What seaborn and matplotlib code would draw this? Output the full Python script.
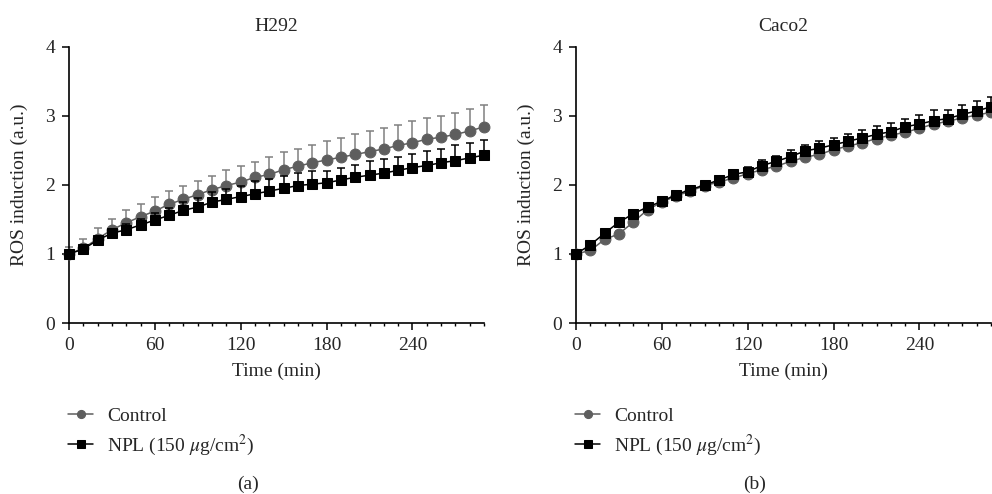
import numpy as np
import pandas as pd
import matplotlib
matplotlib.use('Agg')
import matplotlib.pyplot as plt
from matplotlib.ticker import MultipleLocator
import seaborn as sns

# time points (min)
time_min = [0, 10, 20, 30, 40, 50, 60, 70, 80, 90, 100, 110, 120, 130, 140,
            150, 160, 170, 180, 190, 200, 210, 220, 230, 240, 250, 260, 270, 280, 290]

# H292
h292_control = [1.00, 1.08, 1.22, 1.35, 1.45, 1.54, 1.62, 1.72, 1.79, 1.86, 1.93, 1.99, 2.04, 2.11, 2.15,
                2.22, 2.27, 2.32, 2.36, 2.40, 2.44, 2.48, 2.52, 2.57, 2.61, 2.66, 2.69, 2.73, 2.78, 2.84]
h292_control_err = [0.10, 0.13, 0.16, 0.16, 0.18, 0.19, 0.21, 0.19, 0.19, 0.19, 0.20, 0.22, 0.23, 0.22, 0.25,
                    0.26, 0.25, 0.26, 0.27, 0.28, 0.30, 0.30, 0.30, 0.30, 0.32, 0.31, 0.31, 0.31, 0.32, 0.32]
h292_npl = [1.00, 1.07, 1.20, 1.30, 1.35, 1.42, 1.49, 1.56, 1.63, 1.68, 1.75, 1.79, 1.83, 1.87, 1.91,
            1.95, 1.99, 2.01, 2.03, 2.07, 2.11, 2.14, 2.17, 2.21, 2.25, 2.28, 2.32, 2.35, 2.39, 2.43]
h292_npl_err = [0.02, 0.03, 0.05, 0.06, 0.08, 0.09, 0.10, 0.11, 0.12, 0.13, 0.14, 0.15, 0.16, 0.19, 0.18,
                0.18, 0.18, 0.19, 0.17, 0.18, 0.18, 0.20, 0.21, 0.20, 0.19, 0.21, 0.20, 0.22, 0.22, 0.22]

# Caco2
caco2_control = [1.00, 1.05, 1.21, 1.29, 1.46, 1.64, 1.75, 1.84, 1.91, 1.99, 2.04, 2.10, 2.16, 2.22, 2.27,
                 2.34, 2.40, 2.44, 2.51, 2.56, 2.61, 2.67, 2.72, 2.76, 2.82, 2.88, 2.92, 2.97, 3.01, 3.05]
caco2_control_err = [0.02, 0.03, 0.03, 0.04, 0.04, 0.04, 0.05, 0.05, 0.05, 0.05, 0.05, 0.05, 0.06, 0.06, 0.06,
                     0.06, 0.06, 0.06, 0.06, 0.07, 0.07, 0.07, 0.07, 0.07, 0.07, 0.08, 0.08, 0.08, 0.08, 0.08]
caco2_npl = [1.00, 1.13, 1.30, 1.46, 1.58, 1.68, 1.76, 1.86, 1.93, 2.00, 2.07, 2.15, 2.19, 2.28, 2.34,
             2.41, 2.49, 2.53, 2.58, 2.63, 2.68, 2.73, 2.77, 2.84, 2.88, 2.93, 2.96, 3.02, 3.07, 3.13]
caco2_npl_err = [0.01, 0.02, 0.03, 0.03, 0.04, 0.04, 0.05, 0.05, 0.05, 0.06, 0.06, 0.07, 0.07, 0.08, 0.08,
                 0.09, 0.09, 0.10, 0.10, 0.11, 0.11, 0.12, 0.13, 0.12, 0.13, 0.15, 0.13, 0.14, 0.14, 0.14]

titles = ['H292', 'Caco2']
panel_tags = ['(a)', '(b)']
labels = ['Control', 'NPL (150 $\\mu$g/cm$^2$)']

sns.set_style('ticks')
plt.rcParams['font.family'] = ['Liberation Serif', 'DejaVu Serif']
plt.rcParams['mathtext.fontset'] = 'stix'
FS = 14
plt.rcParams['font.size'] = FS

W, H = 992, 494
fig = plt.figure(figsize=(W / 100, H / 100), dpi=100)

panels = [
    (h292_control, h292_control_err, h292_npl, h292_npl_err),
    (caco2_control, caco2_control_err, caco2_npl, caco2_npl_err),
]
lefts = [69, 576]

ctrl_color = '#5e5e5e'
ctrl_err_color = '#808080'
npl_color = '#000000'

for i, (ctrl, ctrl_err, npl, npl_err) in enumerate(panels):
    left = lefts[i]
    ax = fig.add_axes([left / W, 1 - 323 / H, 415 / W, (323 - 46.7) / H])

    df = pd.DataFrame({'time': time_min, 'ctrl': ctrl, 'npl': npl})

    # upper-only error bars
    ax.errorbar(time_min, ctrl, yerr=[np.zeros(len(ctrl_err)), ctrl_err], fmt='none',
                ecolor=ctrl_err_color, elinewidth=1.1, capsize=3, capthick=1.1, zorder=2, clip_on=False)
    sns.lineplot(data=df, x='time', y='ctrl', ax=ax, color=ctrl_color, marker='o', markersize=7.8,
                 markeredgecolor=ctrl_color, linewidth=1.1, label=labels[0], zorder=3, clip_on=False)
    ax.errorbar(time_min, npl, yerr=[np.zeros(len(npl_err)), npl_err], fmt='none',
                ecolor=npl_color, elinewidth=1.1, capsize=3, capthick=1.1, zorder=4, clip_on=False)
    sns.lineplot(data=df, x='time', y='npl', ax=ax, color=npl_color, marker='s', markersize=7.3,
                 markeredgecolor=npl_color, linewidth=1.1, label=labels[1], zorder=5, clip_on=False)

    ax.set_xlim(0, 290)
    ax.set_ylim(0, 4)
    ax.xaxis.set_major_locator(MultipleLocator(60))
    ax.xaxis.set_minor_locator(MultipleLocator(10))
    ax.set_xticks([0, 60, 120, 180, 240])
    ax.yaxis.set_major_locator(MultipleLocator(1))
    ax.tick_params(axis='both', which='major', direction='out', length=5, width=1.1, pad=5,
                   labelsize=FS, color='black')
    ax.tick_params(axis='x', which='minor', direction='out', length=2.5, width=1.0, color='black')
    sns.despine(ax=ax)
    for s in ['left', 'bottom']:
        ax.spines[s].set_linewidth(1.2)
        ax.spines[s].set_color('black')

    ax.set_title(titles[i], fontsize=FS, pad=11)
    ax.set_xlabel('Time (min)', fontsize=FS, labelpad=6)
    ax.set_ylabel('ROS induction (a.u.)', fontsize=FS)
    ax.yaxis.set_label_coords(-0.099, 0.5)

    ax.legend(loc='upper left', bbox_to_anchor=((left - 1) / W, 1 - 407 / H),
              bbox_transform=fig.transFigure, frameon=False, fontsize=FS, markerscale=0.75,
              handlelength=1.3, handletextpad=0.7, labelspacing=0.4, borderpad=0, borderaxespad=0)

    fig.text((left + 179) / W, 1 - 484 / H, panel_tags[i], ha='center', va='center', fontsize=FS)

fig.savefig('out.png', dpi=100)
